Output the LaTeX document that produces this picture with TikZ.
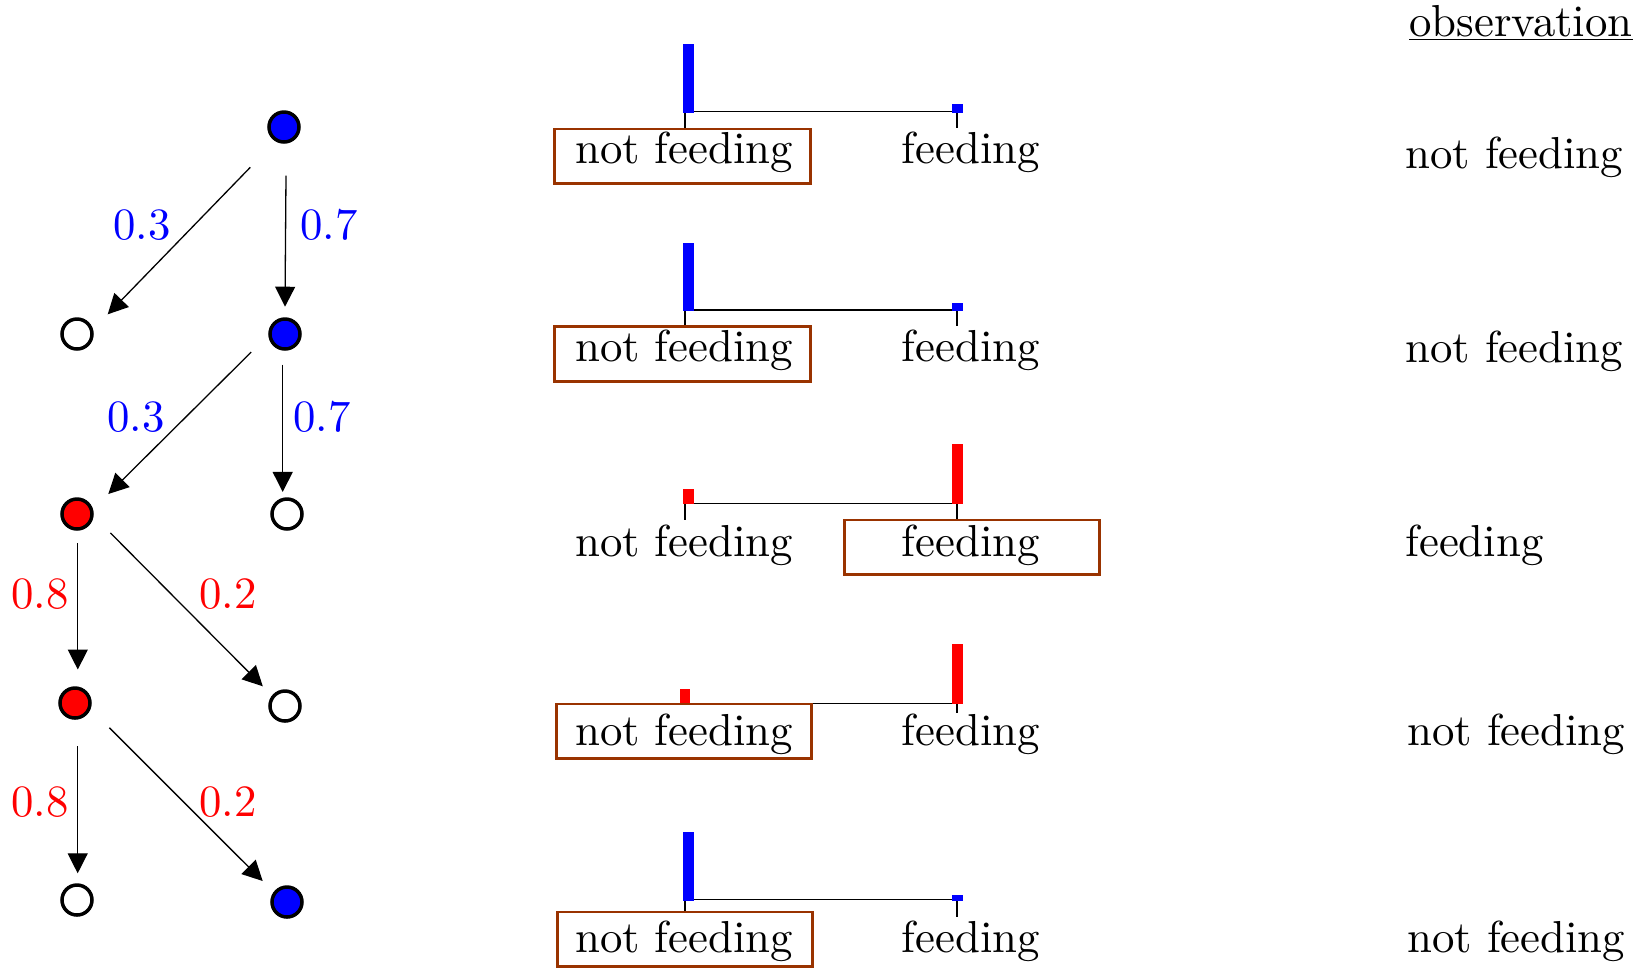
\documentclass[tikz,border=0pt]{standalone}
\usepackage{fontspec}
\setmainfont{lmroman10-regular.otf}
\usetikzlibrary{arrows.meta,calc}
\definecolor{boxbrown}{RGB}{153,51,0}
\definecolor{pblue}{RGB}{0,0,255}
\definecolor{pred}{RGB}{255,0,0}
\begin{document}
\begin{tikzpicture}[x=0.5pt,y=-0.5pt,
  every node/.style={font=\fontsize{22.4}{27}\selectfont},
  state/.style={circle,draw=black,line width=1.75pt,minimum size=15pt,inner sep=0pt},
  bluestate/.style={state,fill=pblue},
  redstate/.style={state,fill=pred},
  emptystate/.style={state,fill=white},
  trans/.style={line width=0.65pt,-{Triangle[length=10pt,width=10pt]}},
  prob/.style={anchor=base,inner sep=0pt},
  axisline/.style={line width=0.65pt},
  lab/.style={anchor=base,inner sep=0pt},
  chosenbox/.style={draw=boxbrown,line width=1.35pt,fill=white,minimum width=127.8pt,minimum height=27.3pt,inner sep=0pt},
  obs/.style={anchor=base west,inner sep=0pt}
]
\useasboundingbox (0,0) rectangle (1648,971);

% ---------- tree ----------
\node[bluestate]  (a) at (284,127) {};
\node[emptystate] (b) at (77,334) {};
\node[bluestate]  (c) at (285,334) {};
\node[redstate]   (d) at (77,514) {};
\node[emptystate] (e) at (287,514) {};
\node[redstate]   (f) at (75,703) {};
\node[emptystate] (g) at (285,706) {};
\node[emptystate] (h) at (77,900) {};
\node[bluestate]  (i) at (287,902) {};

\draw[trans] ($(a)+(-33.7,40.3)$) -- ($(b)+(30.7,-19.7)$);
\draw[trans] ($(a)+(2,48.7)$)     -- ($(c)+(0,-27.3)$);
\draw[trans] ($(c)+(-33.8,18.1)$) -- ($(d)+(31.3,-20)$);
\draw[trans] ($(c)+(-2.3,30.7)$)  -- ($(e)+(-4.3,-22.1)$);
\draw[trans] ($(d)+(0.8,29.4)$)   -- ($(f)+(2.8,-33.5)$);
\draw[trans] ($(d)+(33.4,18.9)$)  -- ($(g)+(-22.2,-19.7)$);
\draw[trans] ($(f)+(2.7,43)$)     -- ($(h)+(0.7,-26.7)$);
\draw[trans] ($(f)+(34.3,24.7)$)  -- ($(i)+(-24.3,-21)$);

\node[prob,text=pblue] (p1) at (142,239) {0.3};
\node[prob,text=pblue] (p2) at (329,239) {0.7};
\node[prob,text=pblue] (p3) at (136,431) {0.3};
\node[prob,text=pblue] (p4) at (322,431) {0.7};
\node[prob,text=pred]  (p5) at (40,608) {0.8};
\node[prob,text=pred]  (p6) at (228,608) {0.2};
\node[prob,text=pred]  (p7) at (40,816) {0.8};
\node[prob,text=pred]  (p8) at (228,816) {0.2};

% ---------- emission charts ----------
% row 1 (blue)
\draw[axisline] (685,111.7) -- (957,111.7);
\draw[axisline] (685,111.7) -- (685,128);
\draw[axisline] (957,111.7) -- (957,128);
\fill[pblue] (683.3,112.5) rectangle (693.7,44.2);
\fill[pblue] (952.3,112.5) rectangle (962.7,104.2);
\node[chosenbox] (bx1) at (682.5,156.3) {};
\node[lab] (nf1) at (684,163.3) {not feeding};
\node[lab] (fd1) at (971,163.3) {feeding};

% row 2 (blue)
\draw[axisline] (685,310) -- (957,310);
\draw[axisline] (685,310) -- (685,326);
\draw[axisline] (957,310) -- (957,326);
\fill[pblue] (683.3,310.8) rectangle (693.7,242.5);
\fill[pblue] (952.3,310.8) rectangle (962.7,302.5);
\node[chosenbox] (bx2) at (682.5,354) {};
\node[lab] (nf2) at (684,361.5) {not feeding};
\node[lab] (fd2) at (971,361.5) {feeding};

% row 3 (red)
\draw[axisline] (685,503.5) -- (957,503.5);
\draw[axisline] (685,503.5) -- (685,520);
\draw[axisline] (957,503.5) -- (957,520);
\fill[pred] (683.3,504.3) rectangle (693.7,488.5);
\fill[pred] (952.3,504.3) rectangle (962.7,443.5);
\node[lab] (nf3) at (684,556) {not feeding};
\node[chosenbox] (bx3) at (972,547.3) {};
\node[lab] (fd3) at (971,556) {feeding};

% row 4 (red)
\draw[axisline] (685,703.5) -- (957,703.5);
\draw[axisline] (685,703.5) -- (685,713);
\draw[axisline] (957,703.5) -- (957,713);
\fill[pred] (680,704.3) rectangle (690.4,688.5);
\fill[pred] (952.3,704.3) rectangle (962.7,643.5);
\node[chosenbox] (bx4) at (684,731.2) {};
\node[lab] (nf4) at (684,745) {not feeding};
\node[lab] (fd4) at (971,745) {feeding};

% row 5 (blue)
\draw[axisline] (685,899.3) -- (957,899.3);
\draw[axisline] (685,899.3) -- (685,914);
\draw[axisline] (957,899.3) -- (957,916.7);
\fill[pblue] (683.3,900.5) rectangle (693.7,832.3);
\fill[pblue] (952.3,900.5) rectangle (962.7,894.5);
\node[chosenbox] (bx5) at (685,939.3) {};
\node[lab] (nf5) at (684,952.5) {not feeding};
\node[lab] (fd5) at (971,952.5) {feeding};

% ---------- observations ----------
\node[obs] (oh) at (1409,36) {\underline{observation}};
\node[obs] (o1) at (1405,168.5) {not feeding};
\node[obs] (o2) at (1405,362) {not feeding};
\node[obs] (o3) at (1405,556) {feeding};
\node[obs] (o4) at (1407,745) {not feeding};
\node[obs] (o5) at (1407,952) {not feeding};
\end{tikzpicture}
\end{document}
